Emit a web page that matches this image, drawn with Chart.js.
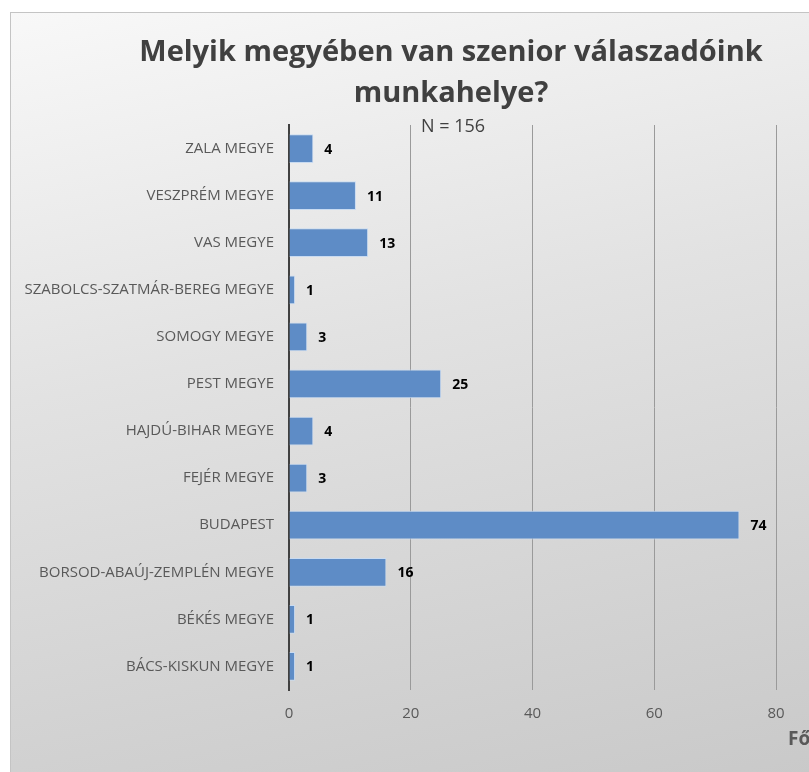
<!DOCTYPE html>
<html lang="hu">
<head>
    <meta charset="UTF-8">
    <title>Megyék</title>
    <script src="https://cdn.jsdelivr.net/npm/chart.js"></script>
    <style>
        html, body { margin: 0; padding: 0; background: #fff; overflow: hidden; }
        #box {
            position: absolute; left: 10px; top: 12px; width: 880px; height: 790px;
            border-top: 1px solid #c4c4c4; border-left: 1px solid #c4c4c4;
            background: linear-gradient(168deg, #f8f8f8 0%, #e2e2e2 40%, #d2d2d2 75%, #c7c7c7 100%);
        }
    </style>
</head>
<body>
<div id="box"><canvas id="chart" width="880" height="790"></canvas></div>
<script>
    // data (top to bottom)
    const counties = ['ZALA MEGYE', 'VESZPRÉM MEGYE', 'VAS MEGYE', 'SZABOLCS-SZATMÁR-BEREG MEGYE',
        'SOMOGY MEGYE', 'PEST MEGYE', 'HAJDÚ-BIHAR MEGYE', 'FEJÉR MEGYE', 'BUDAPEST',
        'BORSOD-ABAÚJ-ZEMPLÉN MEGYE', 'BÉKÉS MEGYE', 'BÁCS-KISKUN MEGYE'];
    const respondents = [4, 11, 13, 1, 3, 25, 4, 3, 74, 16, 1, 1];
    const xTicks = [0, 20, 40, 60, 80];
    const titleLines = ['Melyik megyében van szenior válaszadóink', 'munkahelye?'];
    const sampleNote = 'N = 156';
    const unitLabel = 'Fő';

    const FONT = "'Open Sans', sans-serif";

    // title, value labels, N and axis title drawn on the canvas
    const extraText = {
        id: 'extraText',
        afterDatasetsDraw(chart) {
            const ctx = chart.ctx;
            const area = chart.chartArea;
            ctx.save();
            ctx.fillStyle = '#404040';
            ctx.font = 'bold 29px ' + FONT;
            ctx.textAlign = 'center';
            ctx.textBaseline = 'alphabetic';
            titleLines.forEach((line, i) => ctx.fillText(line, 440, 48 + i * 41));

            ctx.fillStyle = '#000';
            ctx.font = 'bold 14px ' + FONT;
            ctx.textBaseline = 'middle';
            ctx.textAlign = 'left';
            chart.getDatasetMeta(0).data.forEach((bar, i) => {
                ctx.fillText(respondents[i], bar.x + 11, bar.y + 1);
            });
            ctx.fillStyle = '#404040';
            ctx.font = '18px ' + FONT;
            ctx.textAlign = 'center';
            ctx.fillText(sampleNote, 442, area.top + 2);
            ctx.fillStyle = '#595959';
            ctx.font = 'bold 19px ' + FONT;
            ctx.textAlign = 'left';
            ctx.fillText(unitLabel, area.right + 12, area.bottom + 50);
            ctx.restore();
        }
    };

    new Chart(document.getElementById('chart'), {
        type: 'bar',
        data: {
            labels: counties,
            datasets: [{
                data: respondents,
                backgroundColor: '#5e8cc6',
                borderColor: '#c9dbf1',
                borderWidth: 1,
                barPercentage: 0.61,
                categoryPercentage: 1
            }]
        },
        options: {
            indexAxis: 'y',
            responsive: false,
            animation: false,
            layout: { padding: { left: 0, right: 115, top: 112, bottom: 0 } },
            plugins: {
                legend: { display: false },
                tooltip: { enabled: false },
                title: { display: false }
            },
            scales: {
                x: {
                    min: 0,
                    max: 80,
                    afterBuildTicks: (scale) => { scale.ticks = xTicks.map(v => ({ value: v })); },
                    afterFit: (scale) => { scale.height = 113; },
                    grid: { color: '#9a9a9a', lineWidth: 1, drawTicks: false },
                    border: { display: false },
                    ticks: { color: '#595959', padding: 15, font: { family: FONT, size: 15 } }
                },
                y: {
                    afterFit: (scale) => { scale.width = 278; },
                    grid: { display: false, drawTicks: false },
                    border: { display: true, color: '#404040', width: 2 },
                    ticks: { color: '#595959', padding: 15, font: { family: FONT, size: 15 } }
                }
            }
        },
        plugins: [extraText]
    });
</script>
</body>
</html>
